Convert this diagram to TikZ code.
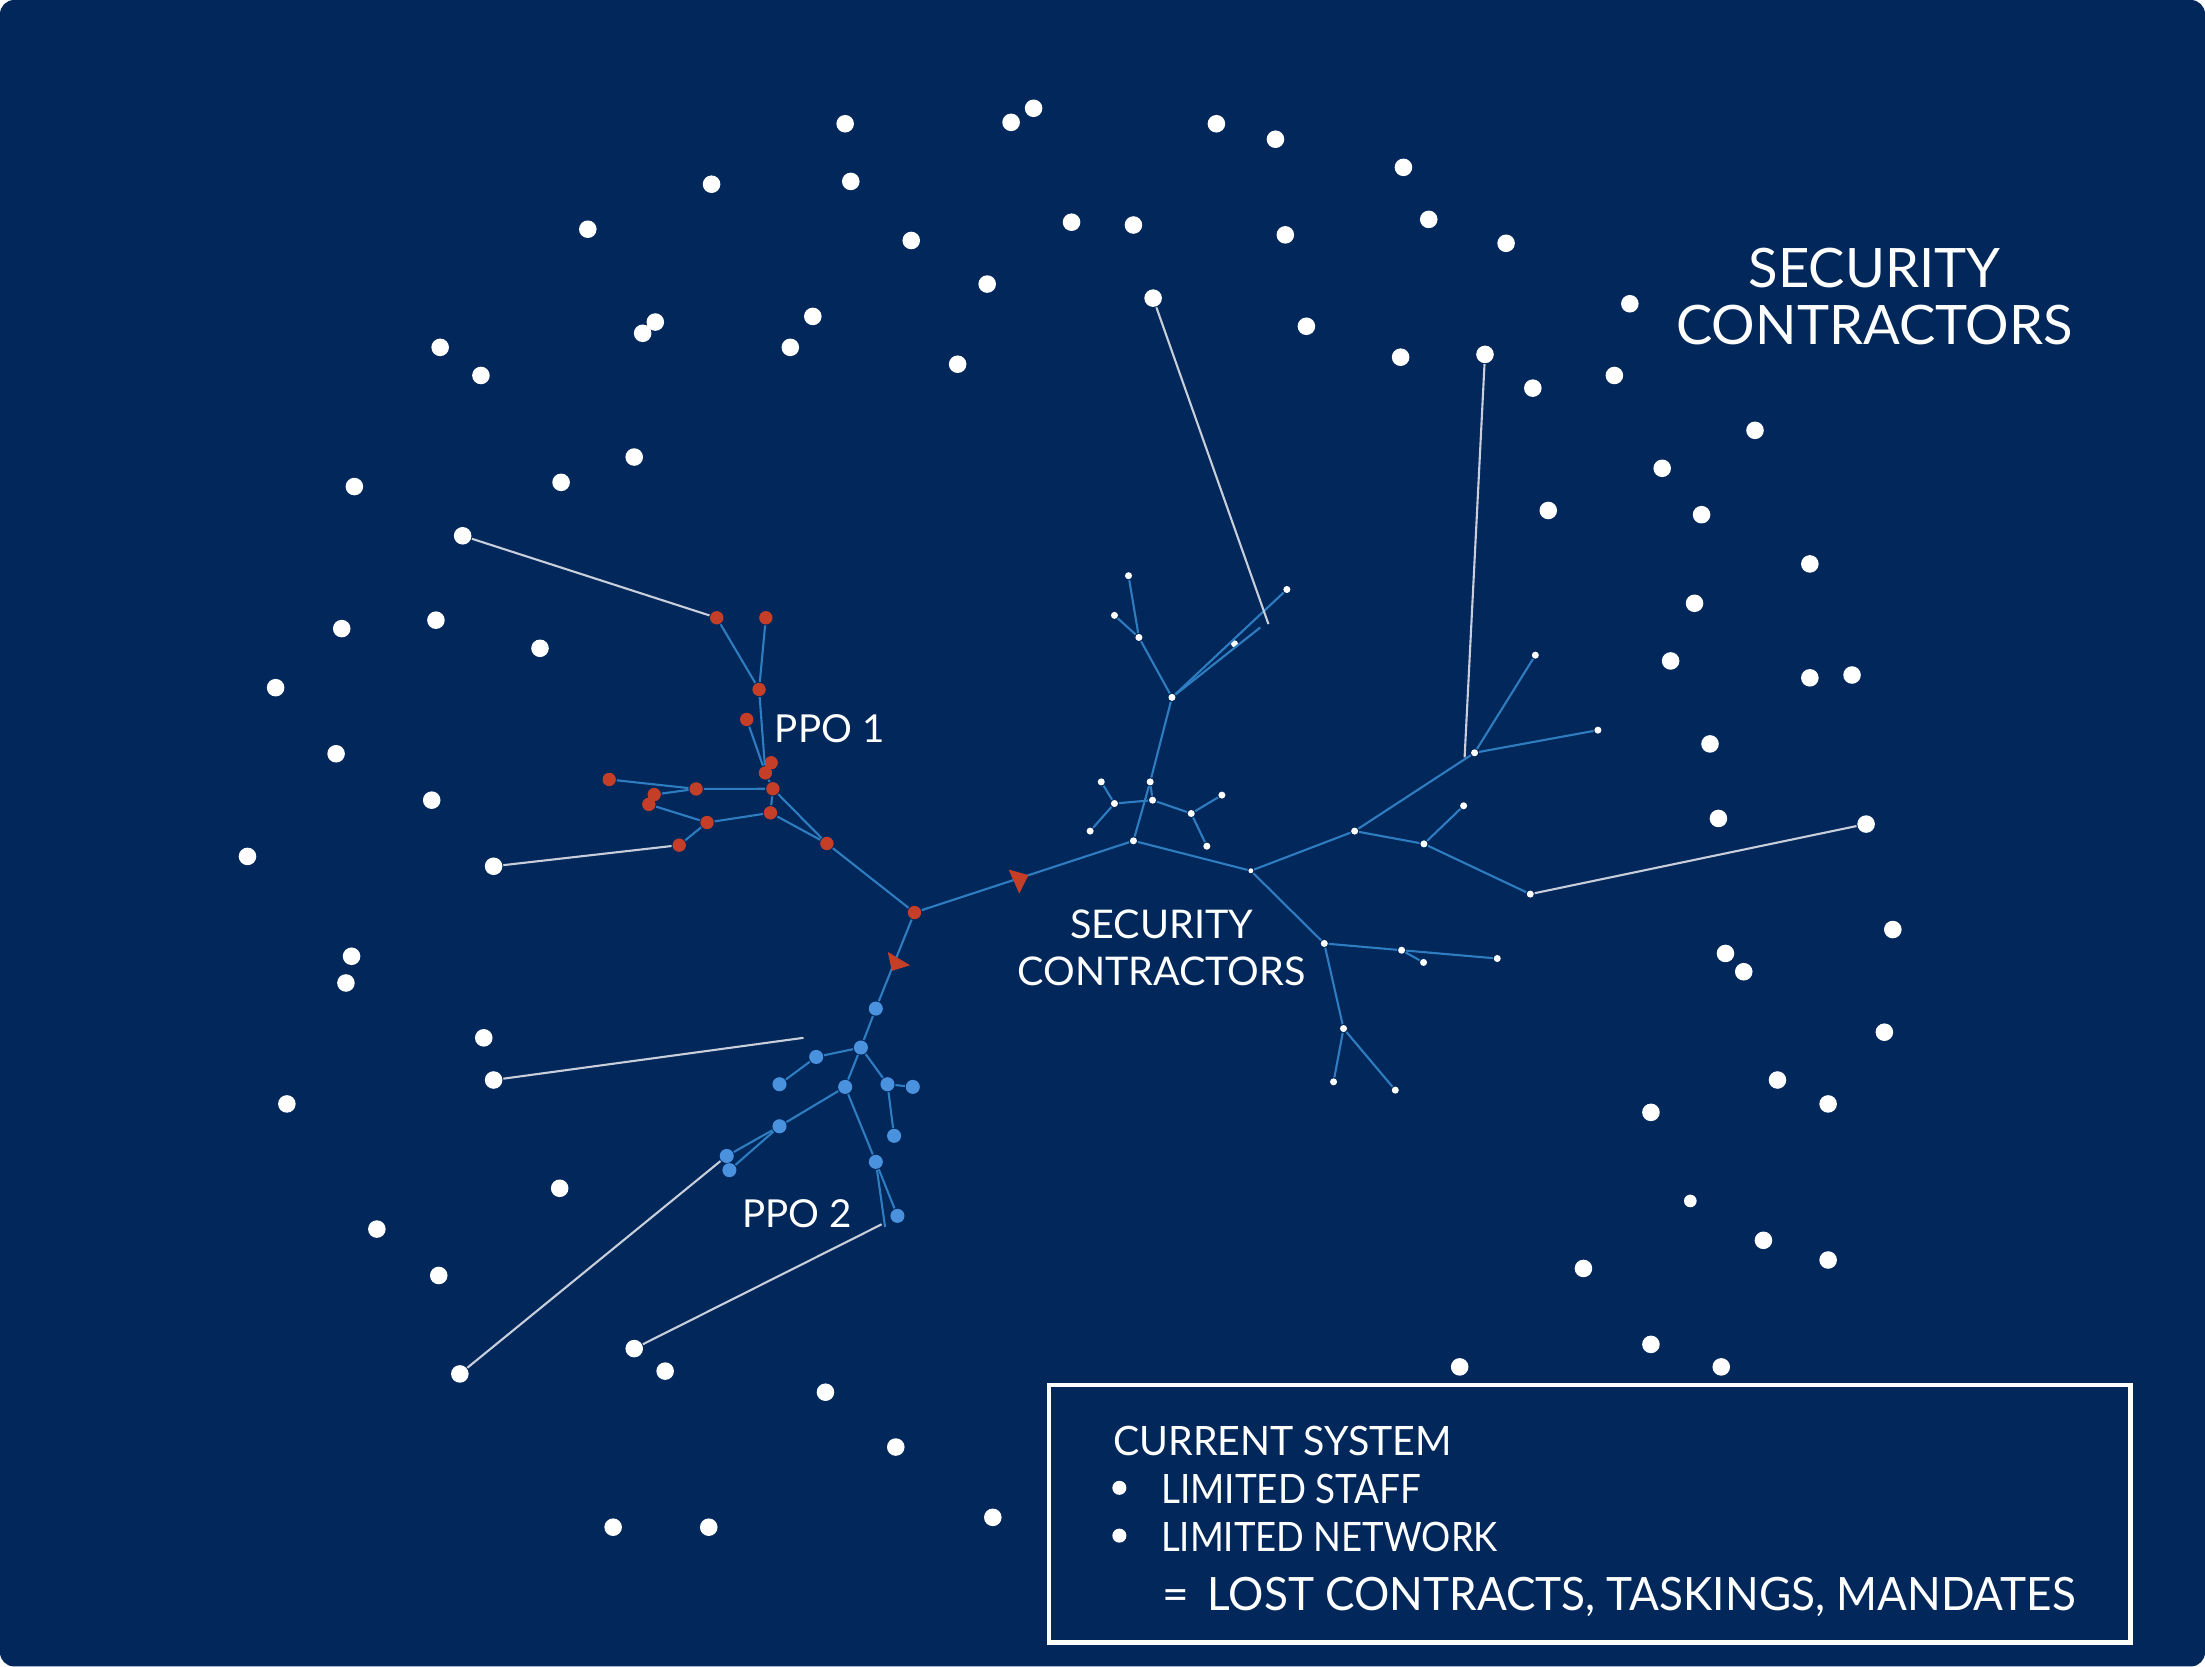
\documentclass[tikz,border=0pt]{standalone}
\usepackage{fontspec}
\setmainfont{Lato}
\definecolor{navy}{RGB}{1,39,91}
\definecolor{linkblue}{RGB}{46,125,192}
\definecolor{ppoblue}{RGB}{74,146,222}
\definecolor{ppored}{RGB}{196,62,40}
\definecolor{threadgray}{RGB}{200,206,218}
\tikzset{
  wdot/.style={circle,fill=white,inner sep=0pt,minimum size=1.25mm},
  tdot/.style={circle,fill=white,inner sep=0pt,minimum size=0.5mm},
  rdot/.style={circle,fill=ppored,inner sep=0pt,minimum size=0.95mm},
  bdot/.style={circle,fill=ppoblue,inner sep=0pt,minimum size=1mm},
  link/.style={linkblue,line width=0.15mm},
  thread/.style={threadgray,line width=0.15mm},
  lbl/.style={text=white,align=center,inner sep=0pt},
  marker/.style={fill=ppored},
}
\begin{document}
\begin{tikzpicture}[x=0.1mm,y=-0.1mm]
\fill[white](0,0) rectangle (1568,1185);
\fill[navy,rounded corners=1mm](0,0) rectangle (1568,1185);
\useasboundingbox (0,0) rectangle (1568,1185);
% outer contractors
\foreach \x/\y [count=\i] in {601/88,719/87,735/77,865/88,907/99,998/119,506/131,605/129,
  418/163,648/171,762/158,806/160,914/167,1016/156,1071/173,702/202,1159/216,
  466/229,457/237,578/225,562/247,681/259,929/232,313/247,342/267,996/254,1090/276,
  1148/267,1248/306,451/325,399/343,252/346,1182/333,1101/363,1210/366,1287/401,
  1205/429,243/447,310/441,384/461,1188/470,1287/482,1317/480,196/489,239/536,
  1216/529,307/569,1222/582,176/609,1346/661,250/680,246/699,1227/678,1240/691,
  1340/734,344/738,204/785,1264/768,1300/785,1174/791,398/845,268/874,312/907,
  1254/882,1300/896,1126/902,473/975,1174/956,1224/972,1038/972,587/990,637/1029,
  436/1086,504/1086,706/1079}
  \node[wdot](w\i) at (\x,\y){};
\node[wdot,minimum size=0.9mm](w0) at (1202,854){};
\node[wdot](s1) at (329,381){};
\node[wdot](s2) at (351,616){};
\node[wdot](s3) at (820,212){};
\node[wdot](s4) at (1056,252){};
\node[wdot](s5) at (1327,586){};
\node[wdot](s6) at (351,768){};
\node[wdot](s7) at (327,977){};
\node[wdot](s8) at (451,959){};
% PPO 1
\node[rdot](hub) at (650.3,648.9){};
\node[rdot](r1) at (509.7,439.3){};
\node[rdot](r2) at (544.6,439.3){};
\node[rdot](r3) at (539.8,490.3){};
\node[rdot](r4) at (531,511.6){};
\node[rdot](r5) at (548.4,542.4){};
\node[rdot](r6) at (544.3,549.6){};
\node[rdot](r7) at (549.6,560.9){};
\node[rdot](r8) at (495,561){};
\node[rdot](r9) at (433.2,554.3){};
\node[rdot](r10) at (465.2,565){};
\node[rdot](r11) at (461.4,572){};
\node[rdot](r12) at (502.8,584.9){};
\node[rdot](r13) at (547.9,578){};
\node[rdot](r14) at (483,601){};
\node[rdot](r15) at (588,599.8){};
\draw[link](r1)--(r3);
\draw[link](r2)--(r3);
\draw[link](r3)--(r6);
\draw[link](r4)--(r6);
\draw[link](r6)--(r7);
\draw[link](r7)--(r8);
\draw[link](r9)--(r8);
\draw[link](r10)--(r8);
\draw[link](r11)--(r12);
\draw[link](r12)--(r13);
\draw[link](r12)--(r14);
\draw[link](r13)--(r7);
\draw[link](r7)--(r15);
\draw[link](r13)--(r15);
\draw[link](r15)--(hub);
% PPO 2
\node[bdot](b1) at (622.8,717.2){};
\node[bdot](b2) at (612.2,744.9){};
\node[bdot](b3) at (580.4,751.6){};
\node[bdot](b4) at (554.3,771){};
\node[bdot](b5) at (601,772.9){};
\node[bdot](b6) at (631.1,771){};
\node[bdot](b7) at (649.1,772.9){};
\node[bdot](b8) at (635.8,807.7){};
\node[bdot](b9) at (554.3,800.9){};
\node[bdot](b10) at (516.8,822){};
\node[bdot](b11) at (518.7,832.1){};
\node[bdot](b12) at (622.8,826.2){};
\node[bdot](b13) at (638.2,864.6){};
\coordinate(b14) at (629.4,872.5);
\draw[link](hub)--(b1);
\draw[link](b1)--(b2);
\draw[link](b2)--(b3);
\draw[link](b3)--(b4);
\draw[link](b2)--(b5);
\draw[link](b2)--(b6);
\draw[link](b6)--(b7);
\draw[link](b6)--(b8);
\draw[link](b5)--(b9);
\draw[link](b9)--(b10);
\draw[link](b9)--(b11);
\draw[link](b5)--(b12);
\draw[link](b12)--(b13);
\draw[link](b12)--(b14);
% security contractors tree
\node[tdot](c0) at (806,597.9){};
\node[tdot](t1) at (833.4,495.9){};
\node[tdot](t2) at (809.9,453.3){};
\node[tdot](t3) at (802.5,409.4){};
\node[tdot](t4) at (792.5,437.6){};
\node[tdot](t5) at (915.1,419.2){};
\node[tdot](t6) at (877.9,457.8){};
\coordinate(t7) at (896.2,446.2);
\node[tdot](t8) at (817.9,556){};
\node[tdot](t9) at (819.6,569){};
\node[tdot](t10) at (792.5,571.4){};
\node[tdot](t11) at (783.1,556){};
\node[tdot](t12) at (775.2,591){};
\node[tdot](t13) at (847.1,578.5){};
\node[tdot](t14) at (868.9,565.4){};
\node[tdot](t15) at (858.2,601.7){};
\node[tdot,minimum size=0.35mm](c1) at (889.5,619.2){};
\node[tdot](d1) at (963.3,591){};
\node[tdot](d2) at (1048.6,535.3){};
\node[tdot](d3) at (1091.8,465.9){};
\node[tdot](d4) at (1136.3,519.2){};
\node[tdot](d5) at (1012.6,600.1){};
\node[tdot](d6) at (1040.8,573){};
\node[tdot](d7) at (1088.2,635.8){};
\node[tdot](e1) at (941.7,670.9){};
\node[tdot](e2) at (996.7,675.7){};
\node[tdot](e3) at (1012.3,684.4){};
\node[tdot](e4) at (1064.7,681.6){};
\node[tdot](e5) at (955.4,731.4){};
\node[tdot](e6) at (948.3,769.3){};
\node[tdot](e7) at (992.2,775.2){};
\draw[link](hub)--(c0);
\draw[link](c0)--(t8);
\draw[link](t8)--(t1);
\draw[link](t8)--(t9);
\draw[link](t1)--(t2);
\draw[link](t2)--(t3);
\draw[link](t2)--(t4);
\draw[link](t1)--(t5);
\draw[link](t1)--(t7);
\draw[link](t10)--(t9);
\draw[link](t10)--(t11);
\draw[link](t10)--(t12);
\draw[link](t9)--(t13);
\draw[link](t13)--(t14);
\draw[link](t13)--(t15);
\draw[link](c0)--(c1);
\draw[link](c1)--(d1);
\draw[link](d1)--(d2);
\draw[link](d2)--(d3);
\draw[link](d2)--(d4);
\draw[link](d1)--(d5);
\draw[link](d5)--(d6);
\draw[link](d5)--(d7);
\draw[link](c1)--(e1);
\draw[link](e1)--(e2);
\draw[link](e2)--(e4);
\draw[link](e2)--(e3);
\draw[link](e1)--(e5);
\draw[link](e5)--(e6);
\draw[link](e5)--(e7);
% markers
\fill[marker](717.2,618.3)--(731.4,622.3)--(724.8,635.4)--cycle;
\fill[marker](631.3,676.9)--(634.2,690.4)--(647.2,686.4)--cycle;
% threads to the outside
\coordinate(x1) at (571.4,738);
\coordinate(x2) at (627,870.6);
\coordinate(x3) at (902,443.8);
\coordinate(x4) at (1041.5,538.6);
\draw[thread](s1)--(r1);
\draw[thread](s2)--(r14);
\draw[thread](s6)--(x1);
\draw[thread](s7)--(b10);
\draw[thread](s8)--(x2);
\draw[thread](s3)--(x3);
\draw[thread](s4)--(x4);
\draw[thread](s5)--(d7);
% labels
\node[lbl,font=\fontsize{11}{11.6}\selectfont](title) at (1333,211){SECURITY\\CONTRACTORS};
\node[lbl,font=\fontsize{8}{9.4}\selectfont](hublbl) at (826,674){SECURITY\\CONTRACTORS};
\node[lbl,font=\fontsize{7.8}{9}\selectfont](ppo1) at (590,518){PPO 1};
\node[lbl,font=\fontsize{7.8}{9}\selectfont](ppo2) at (567,863){PPO 2};
% legend
\draw[white,line width=0.3mm](746,985) rectangle (1515,1168);
\node[lbl,anchor=base west,font=\fontsize{8.2}{10}\selectfont](current) at (791,1035){\scalebox{0.97}[1]{CURRENT SYSTEM}};
\node[wdot,minimum size=1mm](bul1) at (796,1058){};
\node[lbl,anchor=base west,font=\fontsize{8.2}{10}\selectfont](staff) at (825,1069){\scalebox{0.91}[1]{LIMITED STAFF}};
\node[wdot,minimum size=1mm](bul2) at (796,1092){};
\node[lbl,anchor=base west,font=\fontsize{8.2}{10}\selectfont](network) at (825,1103){\scalebox{0.9}[1]{LIMITED NETWORK}};
\node[lbl,anchor=base west,font=\fontsize{9.3}{11}\selectfont](equals) at (826,1145){=};
\node[lbl,anchor=base west,font=\fontsize{9.3}{11}\selectfont](lost) at (858,1145){\scalebox{0.96}[1]{LOST CONTRACTS, TASKINGS, MANDATES}};
\end{tikzpicture}
\end{document}
